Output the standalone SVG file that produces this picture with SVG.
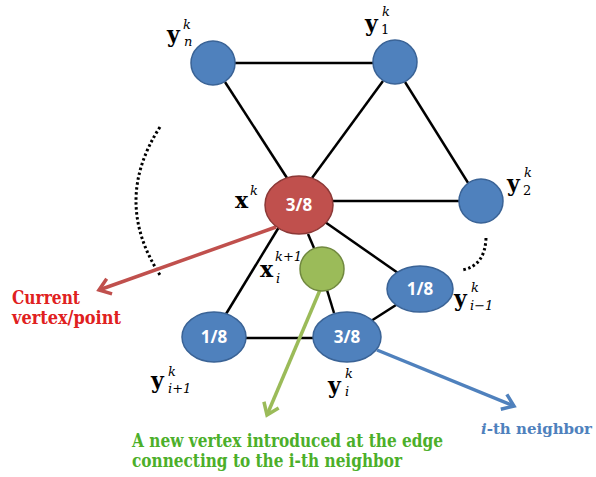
<svg xmlns="http://www.w3.org/2000/svg" width="596" height="477" viewBox="0 0 596 477">
<defs>
<marker id="ahR" markerWidth="8" markerHeight="8" refX="5" refY="4" orient="auto" markerUnits="userSpaceOnUse" viewBox="0 0 8 8" overflow="visible">
<path d="M-6,-4 L5,4 L-6,12" fill="none" stroke="#C0504D" stroke-width="3.5" stroke-linejoin="miter"/>
</marker>
<marker id="ahG" markerWidth="8" markerHeight="8" refX="5" refY="4" orient="auto" markerUnits="userSpaceOnUse" viewBox="0 0 8 8" overflow="visible">
<path d="M-6,-4 L5,4 L-6,12" fill="none" stroke="#9BBB59" stroke-width="3.5"/>
</marker>
<marker id="ahB" markerWidth="8" markerHeight="8" refX="5" refY="4" orient="auto" markerUnits="userSpaceOnUse" viewBox="0 0 8 8" overflow="visible">
<path d="M-6,-4 L5,4 L-6,12" fill="none" stroke="#4F81BD" stroke-width="3.5"/>
</marker>
</defs>
<style>
.edge{stroke:#000;stroke-width:2.5;fill:none}
.dot{stroke:#000;stroke-width:3;fill:none;stroke-dasharray:2.5 2.5}
.blue{fill:#4F81BD;stroke:#3A6396;stroke-width:1.5}
.red{fill:#C0504D;stroke:#8C3836;stroke-width:1.5}
.green{fill:#9BBB59;stroke:#71893F;stroke-width:1.5}
.num{font-weight:bold;font-size:17px;fill:#fff;text-anchor:middle}
.v{font-weight:bold;font-size:22px;fill:#000}
.s{font-style:italic;font-size:13px;fill:#000}
.sn{font-size:13px;fill:#000}
.cap{font-weight:bold;font-size:18px}
</style>
<g id="connectors">
<line class="edge" x1="235" y1="63" x2="373" y2="63"/>
<line class="edge" x1="225" y1="82" x2="287" y2="178"/>
<line class="edge" x1="383" y1="81" x2="312" y2="178"/>
<line class="edge" x1="405" y1="82" x2="470" y2="186"/>
<line class="edge" x1="333" y1="201" x2="459" y2="201"/>
<line class="edge" x1="325" y1="222" x2="398" y2="273"/>
<line class="edge" x1="279" y1="227" x2="226" y2="314"/>
<line class="edge" x1="308" y1="234" x2="314" y2="248"/>
<line class="edge" x1="327" y1="290" x2="334" y2="313"/>
<line class="edge" x1="246" y1="338" x2="313" y2="338"/>
<line class="edge" x1="396" y1="305" x2="371" y2="321"/>
<path class="dot" d="M160,127 Q112,201 160,275"/>
<path class="dot" d="M486,238 Q485,266 462,270"/>
<line x1="276" y1="227" x2="99" y2="290" stroke="#C0504D" stroke-width="3.5" marker-end="url(#ahR)"/>
<line x1="320" y1="290" x2="267" y2="415" stroke="#9BBB59" stroke-width="3.5" marker-end="url(#ahG)"/>
<line x1="377" y1="350" x2="514" y2="406" stroke="#4F81BD" stroke-width="3.5" marker-end="url(#ahB)"/>
</g>
<g font-family="DejaVu Serif, Liberation Serif, serif">
<g id="yn">
<circle class="blue" cx="213" cy="63" r="22"/>
<text class="v" x="167" y="42">y</text><text class="s" x="183" y="29">k</text><text class="s" x="184" y="46">n</text>
</g>
<g id="y1">
<circle class="blue" cx="395" cy="62" r="22"/>
<text class="v" x="365" y="31">y</text><text class="s" x="382" y="16">k</text><text class="sn" x="381" y="34">1</text>
</g>
<g id="y2">
<circle class="blue" cx="481" cy="201" r="22"/>
<text class="v" x="507" y="191">y</text><text class="s" x="524" y="177">k</text><text class="sn" x="523" y="195">2</text>
</g>
<g id="x">
<ellipse class="red" cx="299" cy="205" rx="34" ry="29"/>
<text class="num" font-family="Open Sans, Liberation Sans, sans-serif" x="299" y="211">3/8</text>
<text class="v" x="235" y="208">x</text><text class="s" x="250" y="195">k</text>
</g>
<g id="xnew">
<circle class="green" cx="322" cy="269" r="22"/>
<text class="v" x="260" y="277">x</text><text class="s" x="275" y="261">k+1</text><text class="s" x="276" y="283">i</text>
</g>
<g id="yim1">
<ellipse class="blue" cx="420" cy="289" rx="33" ry="23"/>
<text class="num" font-family="Open Sans, Liberation Sans, sans-serif" x="420" y="295">1/8</text>
<text class="v" x="454" y="306">y</text><text class="s" x="471" y="292">k</text><text class="s" x="470" y="310">i−1</text>
</g>
<g id="yip1">
<ellipse class="blue" cx="214" cy="337" rx="32" ry="25"/>
<text class="num" font-family="Open Sans, Liberation Sans, sans-serif" x="214" y="343">1/8</text>
<text class="v" x="151" y="388">y</text><text class="s" x="168" y="376">k</text><text class="s" x="168" y="393">i+1</text>
</g>
<g id="yi">
<ellipse class="blue" cx="347" cy="337" rx="34" ry="25"/>
<text class="num" font-family="Open Sans, Liberation Sans, sans-serif" x="347" y="343">3/8</text>
<text class="v" x="328" y="393">y</text><text class="s" x="345" y="378">k</text><text class="s" x="345" y="396">i</text>
</g>
<g id="labels">
<text class="cap" fill="#E02020" x="12" y="304" textLength="68" lengthAdjust="spacingAndGlyphs">Current</text>
<text class="cap" fill="#E02020" x="12" y="324" textLength="109" lengthAdjust="spacingAndGlyphs">vertex/point</text>
<text class="cap" fill="#4CAF2A" x="132" y="447" textLength="311" lengthAdjust="spacingAndGlyphs">A new vertex introduced at the edge</text>
<text class="cap" fill="#4CAF2A" x="132" y="467" textLength="270" lengthAdjust="spacingAndGlyphs">connecting to the i-th neighbor</text>
<text class="cap" fill="#4F81BD" x="481" y="434" style="font-size:14.5px" textLength="111" lengthAdjust="spacingAndGlyphs"><tspan font-style="italic">i</tspan>-th neighbor</text>
</g>
</g>
</svg>
